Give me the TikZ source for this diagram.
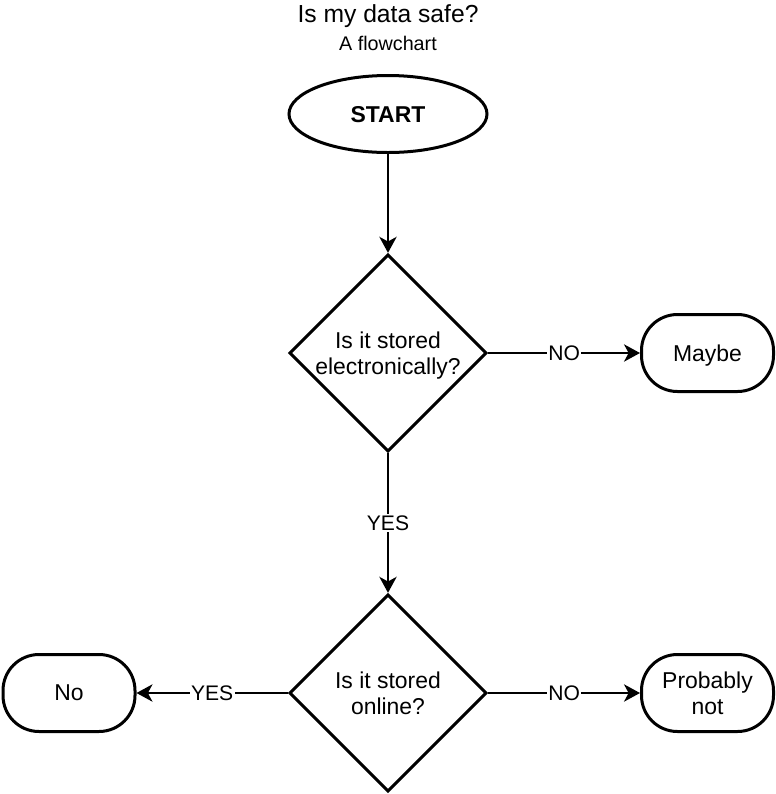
\documentclass[tikz,border=0pt]{standalone}
\usepackage{fontspec}
\setmainfont{Liberation Sans}
\usetikzlibrary{shapes.geometric,arrows.meta}

\begin{document}
\begin{tikzpicture}[x=0.75pt,y=-0.75pt,>={Stealth[length=12pt,width=13pt,inset=3.5pt]},
	every node/.style={font=\fontsize{17.2}{19.8}\selectfont},
	term/.style={draw,line width=2.25pt,rounded corners=27pt,minimum width=99pt,minimum height=57.75pt,align=center,inner sep=0pt,text depth=0pt},
	decision/.style={draw,diamond,line width=2.25pt,minimum width=148pt,minimum height=148pt,align=center,inner sep=-8pt,text depth=0pt},
	lab/.style={fill=white,inner sep=1pt,font=\fontsize{15.8}{18}\selectfont}]
\useasboundingbox (0,0) rectangle (776,794);
\node (title) at (388,16) [font=\fontsize{18.5}{21}\selectfont] {Is my data safe?};
\node (sub) at (388,43) [font=\fontsize{14.8}{17}\selectfont] {A flowchart};
\node (start) at (388,114) [draw,ellipse,line width=2.25pt,minimum width=148.5pt,minimum height=57.75pt,text depth=0pt,font=\fontsize{17.2}{19.8}\selectfont\bfseries] {START};
\node (q1) at (388,353) [decision] {Is it stored\\electronically?};
\node (q2) at (388,693) [decision] {Is it stored\\online?};
\node (maybe) at (707.5,353) [term] {Maybe};
\node (no) at (69,693) [term] {No};
\node (notsafe) at (707.5,693) [term] {Probably\\not};
\path[->,line width=1.5pt]
(start) edge (q1)
(q1) edge node [lab] {NO} (maybe)
edge node [lab] {YES} (q2)
(q2) edge node [lab] {YES} (no)
edge node [lab] {NO} (notsafe);
\end{tikzpicture}
\end{document}
